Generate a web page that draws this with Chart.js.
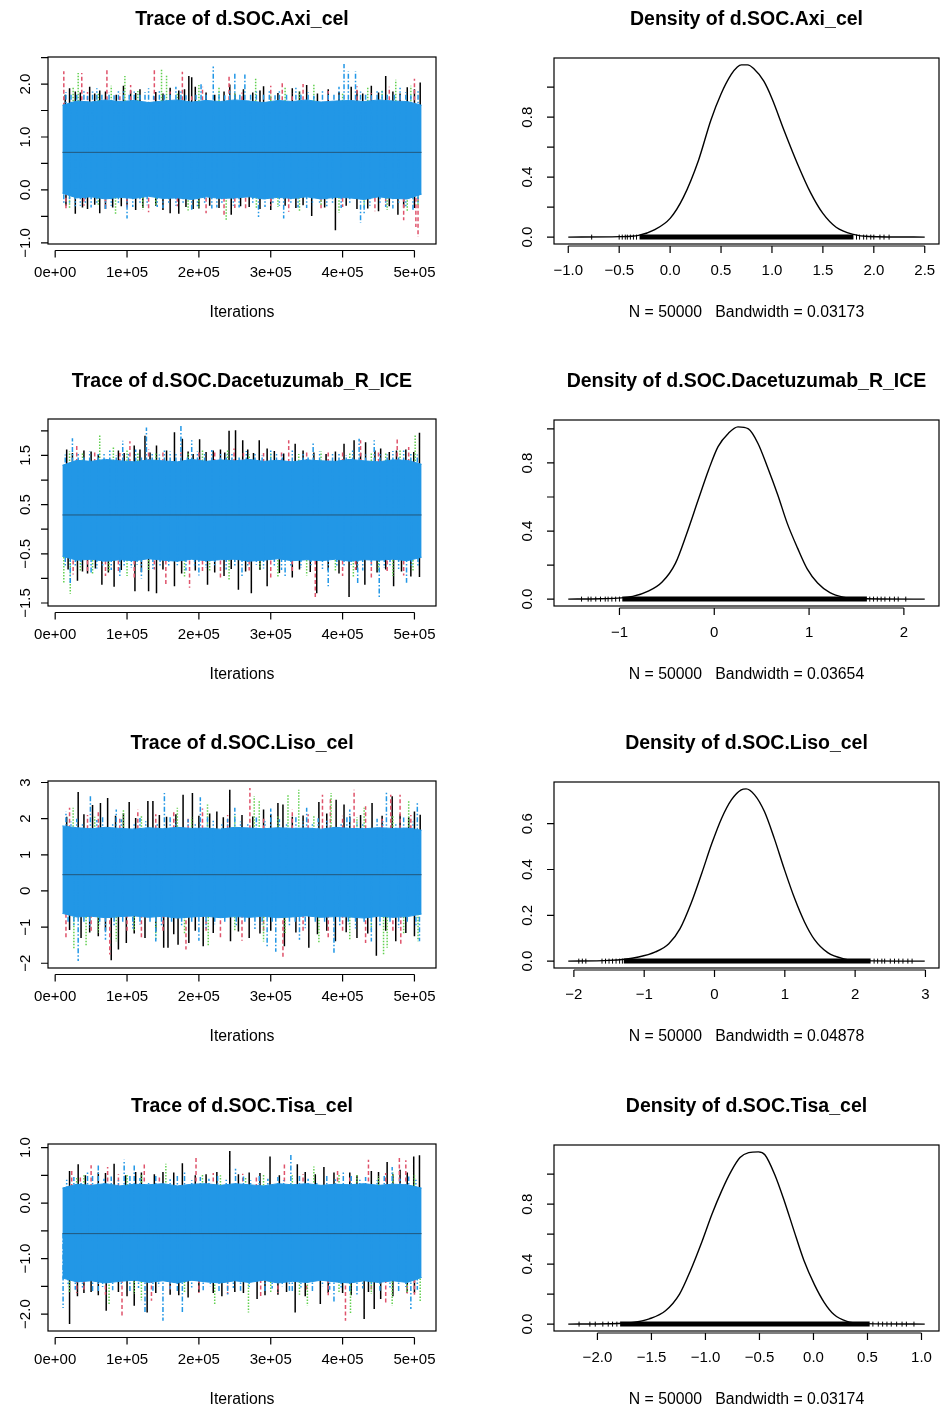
<!DOCTYPE html>
<html>
<head>
<meta charset="utf-8">
<script src="https://cdn.jsdelivr.net/npm/chart.js@4.4.1/dist/chart.umd.min.js"></script>
<style>
  body { margin: 0; background: #fff; }
  #page { position: relative; width: 944px; height: 1409px; overflow: hidden; background: #fff; }
  canvas { position: absolute; }
</style>
</head>
<body>
<div id="page"></div>
<script>
// MCMC diagnostics: trace + density for the four d.SOC contrasts (4 chains)

const paramNames = ['d.SOC.Axi_cel', 'd.SOC.Dacetuzumab_R_ICE', 'd.SOC.Liso_cel', 'd.SOC.Tisa_cel'];
const bandwidths = ['0.03173', '0.03654', '0.04878', '0.03174'];
const sampleN = 50000;
const iterFirst = 10001, iterLast = 510000;

const iterTicks = [0, 100000, 200000, 300000, 400000, 500000];
const iterLabels = ['0e+00', '1e+05', '2e+05', '3e+05', '4e+05', '5e+05'];

// envelope of the dense part of the chains, every 20k iterations (in thousands)
const bandIter = [10, 30, 50, 70, 90, 110, 130, 150, 170, 190, 210, 230, 250, 270, 290, 310, 330, 350, 370, 390, 410, 430, 450, 470, 490, 510];

// ---- Axi_cel
const axiMean = 0.71;
const axiHi = [1.60, 1.68, 1.66, 1.70, 1.67, 1.69, 1.65, 1.68, 1.70, 1.66, 1.69, 1.67, 1.70, 1.68, 1.65, 1.69, 1.67, 1.70, 1.66, 1.68, 1.69, 1.67, 1.70, 1.68, 1.67, 1.60];
const axiLo = [-0.06, -0.15, -0.13, -0.17, -0.14, -0.16, -0.12, -0.16, -0.15, -0.18, -0.13, -0.16, -0.15, -0.13, -0.17, -0.14, -0.16, -0.13, -0.17, -0.14, -0.15, -0.18, -0.13, -0.16, -0.17, -0.08];
// excursions beyond the band: [iteration (k), value]
const axiBlack = [[20, 1.92], [28, 1.86], [48, 1.95], [62, 1.88], [95, 1.97], [118, 1.90], [160, 1.93], [172, 1.88], [186, 2.15], [190, 2.13], [195, 1.95], [243, 1.99], [262, 1.90], [290, 1.96], [330, 1.92], [350, 1.98], [380, 1.90], [412, 1.95], [440, 1.97], [460, 2.15], [490, 1.94], [508, 2.03],
  [14, 1.80], [35, 1.84], [55, 1.82], [70, 1.86], [85, 1.80], [105, 1.88], [112, 1.83], [140, 1.85], [150, 1.82], [180, 1.90], [210, 1.84], [222, 1.80], [235, 1.86], [250, 1.82], [275, 1.84], [285, 1.88], [310, 1.83], [340, 1.86], [365, 1.82], [395, 1.85], [420, 1.88], [428, 1.82], [450, 1.84], [470, 1.86], [480, 1.82], [500, 1.90],
  [28, -0.45], [45, -0.36], [62, -0.44], [80, -0.33], [112, -0.38], [160, -0.44], [172, -0.45], [200, -0.35], [245, -0.47], [270, -0.32], [300, -0.38], [357, -0.49], [390, -0.76], [420, -0.36], [450, -0.40], [477, -0.47], [500, -0.34],
  [15, -0.30], [38, -0.33], [55, -0.28], [70, -0.36], [92, -0.31], [100, -0.29], [122, -0.34], [140, -0.30], [150, -0.38], [182, -0.32], [192, -0.36], [215, -0.30], [228, -0.34], [258, -0.31], [285, -0.36], [320, -0.30], [335, -0.34], [345, -0.29], [375, -0.33], [405, -0.30], [435, -0.35], [465, -0.31], [485, -0.33]];
const axiRed = [[12, 2.24], [37, 2.21], [72, 2.30], [105, 1.98], [138, 2.31], [177, 2.23], [205, 1.95], [242, 2.18], [300, 1.97], [316, 2.05], [345, 2.00], [420, 1.96], [465, 1.95], [500, 2.10],
  [45, 1.85], [90, 1.82], [160, 1.86], [190, 1.80], [260, 1.84], [330, 1.82], [380, 1.87], [440, 1.83], [480, 1.80],
  [15, -0.38], [70, -0.35], [130, -0.42], [210, -0.44], [235, -0.48], [265, -0.37], [325, -0.41], [370, -0.36], [445, -0.40], [485, -0.57], [502, -0.70], [505, -0.89],
  [40, -0.30], [100, -0.33], [170, -0.31], [250, -0.34], [300, -0.30], [400, -0.32], [460, -0.30]];
const axiGreen = [[25, 1.95], [32, 2.21], [78, 1.97], [97, 2.15], [148, 2.27], [155, 2.18], [200, 1.98], [228, 1.95], [279, 2.12], [320, 1.96], [360, 1.99], [435, 1.94], [474, 2.08], [495, 1.97],
  [60, 1.84], [115, 1.87], [170, 1.82], [250, 1.85], [300, 1.80], [340, 1.86], [400, 1.83], [455, 1.88],
  [20, -0.35], [84, -0.47], [122, -0.37], [185, -0.39], [238, -0.57], [280, -0.36], [340, -0.40], [395, -0.43], [462, -0.38], [490, -0.42],
  [60, -0.31], [140, -0.30], [200, -0.33], [310, -0.32], [370, -0.30], [430, -0.34], [505, -0.30]];
const axiBlue = [[15, 1.85], [40, 1.88], [58, 1.92], [88, 1.90], [110, 1.86], [130, 1.92], [168, 1.95], [203, 2.00], [220, 2.33], [250, 2.21], [264, 2.18], [298, 1.90], [335, 1.93], [372, 1.88], [395, 1.95], [402, 2.38], [408, 2.24], [418, 2.24], [448, 1.90], [480, 1.93], [505, 1.87],
  [22, 1.80], [30, 1.83], [45, 1.78], [52, 1.86], [65, 1.81], [75, 1.84], [82, 1.79], [95, 1.87], [103, 1.82], [118, 1.80], [125, 1.85], [137, 1.78], [145, 1.90], [152, 1.83], [160, 1.80], [175, 1.86], [182, 1.79], [196, 1.84], [210, 1.81], [228, 1.85], [236, 1.79], [243, 1.88], [257, 1.82], [272, 1.80], [280, 1.86], [290, 1.83], [306, 1.79], [312, 1.87], [322, 1.82], [342, 1.80], [352, 1.85], [360, 1.78], [380, 1.84], [388, 1.80], [425, 1.86], [432, 1.81], [440, 1.79], [455, 1.88], [462, 1.82], [472, 1.80], [488, 1.85], [495, 1.79],
  [35, -0.30], [70, -0.36], [100, -0.54], [142, -0.32], [190, -0.38], [225, -0.33], [283, -0.51], [318, -0.54], [350, -0.34], [425, -0.62], [430, -0.47], [470, -0.35], [498, -0.38],
  [12, -0.25], [20, -0.28], [28, -0.31], [42, -0.27], [50, -0.33], [58, -0.26], [78, -0.30], [88, -0.27], [108, -0.32], [118, -0.26], [128, -0.29], [150, -0.34], [158, -0.27], [168, -0.30], [178, -0.26], [198, -0.31], [208, -0.28], [218, -0.35], [232, -0.27], [248, -0.30], [256, -0.33], [275, -0.26], [292, -0.32], [303, -0.28], [312, -0.30], [328, -0.27], [338, -0.33], [358, -0.29], [368, -0.26], [378, -0.31], [386, -0.28], [398, -0.34], [410, -0.27], [438, -0.30], [452, -0.28], [460, -0.32], [478, -0.27], [488, -0.31], [505, -0.28]];
const axiYTicks = [-1, -0.5, 0, 0.5, 1, 1.5, 2, 2.5];
const axiYLabels = ['\u22121.0', '', '0.0', '', '1.0', '', '2.0', ''];

// ---- Dacetuzumab_R_ICE
const daceMean = 0.29;
const daceHi = [1.30, 1.40, 1.38, 1.42, 1.39, 1.37, 1.41, 1.39, 1.37, 1.42, 1.38, 1.41, 1.39, 1.42, 1.38, 1.40, 1.37, 1.41, 1.39, 1.38, 1.42, 1.39, 1.37, 1.41, 1.40, 1.32];
const daceLo = [-0.55, -0.63, -0.61, -0.65, -0.62, -0.64, -0.60, -0.63, -0.65, -0.61, -0.64, -0.62, -0.61, -0.65, -0.63, -0.60, -0.64, -0.62, -0.64, -0.61, -0.65, -0.62, -0.63, -0.61, -0.64, -0.57];
const daceBlack = [[16, 1.62], [40, 1.60], [110, 1.70], [125, 1.90], [141, 1.70], [166, 1.97], [177, 1.84], [201, 1.83], [210, 1.57], [230, 1.62], [242, 2.00], [251, 2.01], [261, 1.81], [284, 1.81], [295, 1.64], [334, 1.74], [377, 1.53], [402, 1.74], [416, 1.81], [432, 1.77], [453, 1.64], [475, 1.60], [499, 1.57], [507, 1.96],
  [24, 1.55], [50, 1.58], [60, 1.52], [88, 1.60], [96, 1.55], [118, 1.62], [132, 1.56], [155, 1.60], [185, 1.58], [192, 1.53], [220, 1.60], [236, 1.56], [268, 1.62], [276, 1.55], [305, 1.59], [318, 1.54], [345, 1.60], [360, 1.56], [390, 1.58], [425, 1.55], [445, 1.60], [465, 1.57], [488, 1.62],
  [31, -1.05], [45, -0.90], [65, -1.13], [82, -1.17], [111, -1.26], [130, -1.26], [141, -1.30], [166, -1.16], [212, -1.13], [235, -0.95], [255, -1.23], [273, -1.30], [295, -1.16], [330, -0.98], [364, -1.30], [409, -1.38], [431, -1.13], [471, -1.16], [495, -0.96], [507, -0.97],
  [18, -0.82], [38, -0.86], [56, -0.80], [74, -0.88], [92, -0.83], [120, -0.87], [150, -0.82], [176, -0.90], [195, -0.84], [222, -0.88], [245, -0.81], [265, -0.86], [285, -0.83], [312, -0.89], [340, -0.82], [355, -0.87], [380, -0.84], [395, -0.90], [420, -0.83], [448, -0.88], [460, -0.82], [482, -0.86]];
const daceRed = [[30, 1.73], [104, 1.79], [150, 1.60], [200, 1.58], [249, 1.64], [290, 1.55], [325, 1.81], [380, 1.58], [425, 1.81], [476, 1.85], [492, 1.67],
  [55, 1.58], [90, 1.55], [130, 1.62], [175, 1.57], [222, 1.60], [262, 1.55], [315, 1.60], [350, 1.57], [400, 1.61], [450, 1.56],
  [25, -0.92], [70, -0.95], [110, -1.00], [154, -1.13], [187, -1.19], [230, -0.98], [300, -1.00], [362, -1.38], [400, -0.95], [440, -1.00], [485, -0.94],
  [45, -0.85], [88, -0.88], [138, -0.82], [205, -0.86], [270, -0.84], [330, -0.88], [418, -0.83], [462, -0.87]];
const daceGreen = [[20, 1.58], [62, 1.92], [81, 1.66], [115, 1.55], [205, 1.60], [270, 1.52], [339, 1.53], [410, 1.55], [460, 1.56], [501, 1.93],
  [38, 1.56], [100, 1.60], [140, 1.57], [185, 1.55], [240, 1.60], [300, 1.56], [370, 1.58], [440, 1.55], [480, 1.60],
  [12, -1.09], [21, -1.31], [52, -0.92], [100, -0.95], [180, -0.96], [242, -1.02], [310, -0.97], [350, -0.94], [415, -0.98], [470, -0.95],
  [35, -0.84], [75, -0.87], [130, -0.83], [215, -0.86], [285, -0.82], [390, -0.87], [450, -0.84], [498, -0.86]];
const daceBlue = [[24, 1.85], [60, 1.55], [94, 1.80], [127, 2.07], [160, 1.58], [175, 2.10], [190, 1.81], [230, 1.56], [300, 1.60], [359, 1.77], [423, 1.84], [444, 1.81], [485, 1.60],
  [14, 1.52], [32, 1.56], [40, 1.50], [48, 1.58], [68, 1.53], [76, 1.60], [85, 1.51], [102, 1.55], [112, 1.62], [120, 1.50], [135, 1.57], [145, 1.52], [152, 1.60], [168, 1.54], [184, 1.50], [198, 1.58], [208, 1.53], [218, 1.61], [238, 1.52], [246, 1.56], [256, 1.50], [266, 1.59], [278, 1.54], [288, 1.51], [308, 1.57], [316, 1.52], [330, 1.60], [345, 1.54], [352, 1.50], [368, 1.58], [386, 1.53], [395, 1.56], [405, 1.51], [414, 1.60], [432, 1.52], [452, 1.57], [462, 1.52], [470, 1.59], [478, 1.50], [495, 1.55], [504, 1.52],
  [21, -1.13], [50, -0.90], [90, -0.95], [120, -1.00], [200, -0.94], [260, -0.98], [320, -0.95], [380, -1.16], [421, -1.13], [451, -1.42], [489, -1.09],
  [14, -0.74], [28, -0.78], [36, -0.72], [58, -0.80], [66, -0.75], [78, -0.83], [96, -0.74], [106, -0.79], [114, -0.72], [136, -0.81], [146, -0.75], [158, -0.78], [170, -0.73], [182, -0.84], [194, -0.76], [210, -0.79], [222, -0.73], [238, -0.82], [250, -0.75], [268, -0.78], [280, -0.72], [290, -0.80], [305, -0.76], [315, -0.83], [328, -0.74], [342, -0.79], [356, -0.73], [372, -0.81], [392, -0.75], [402, -0.78], [412, -0.72], [428, -0.84], [440, -0.76], [458, -0.79], [466, -0.73], [478, -0.81], [496, -0.75], [505, -0.78]];
const daceYTicks = [-1.5, -1, -0.5, 0, 0.5, 1, 1.5, 2];
const daceYLabels = ['\u22121.5', '', '\u22120.5', '', '0.5', '', '1.5', ''];

// ---- Liso_cel
const lisoMean = 0.45;
const lisoHi = [1.80, 1.75, 1.72, 1.76, 1.73, 1.71, 1.75, 1.72, 1.76, 1.73, 1.74, 1.71, 1.76, 1.74, 1.72, 1.75, 1.73, 1.74, 1.71, 1.76, 1.73, 1.72, 1.75, 1.73, 1.74, 1.68];
const lisoLo = [-0.62, -0.72, -0.70, -0.74, -0.71, -0.69, -0.73, -0.70, -0.75, -0.72, -0.70, -0.74, -0.71, -0.73, -0.70, -0.74, -0.72, -0.69, -0.73, -0.71, -0.72, -0.75, -0.70, -0.73, -0.71, -0.64];
const lisoBlack = [[32, 2.74], [52, 2.38], [63, 2.43], [73, 2.57], [103, 2.46], [129, 2.49], [136, 2.49], [178, 2.66], [191, 2.71], [225, 2.20], [243, 2.80], [290, 2.25], [310, 2.43], [317, 2.39], [367, 2.46], [391, 2.52], [402, 2.39], [441, 2.43], [469, 2.62], [500, 2.20], [508, 2.11],
  [16, 2.05], [40, 2.12], [84, 2.08], [95, 2.15], [112, 2.02], [145, 2.10], [155, 2.05], [168, 2.12], [200, 2.08], [215, 2.14], [234, 2.04], [260, 2.10], [275, 2.06], [300, 2.12], [330, 2.05], [345, 2.09], [378, 2.14], [410, 2.06], [425, 2.10], [455, 2.08], [480, 2.12], [492, 2.04],
  [36, -1.30], [60, -1.25], [78, -1.92], [88, -1.62], [99, -1.44], [125, -1.30], [151, -1.57], [157, -1.57], [171, -1.49], [186, -1.44], [206, -1.53], [244, -1.39], [270, -1.30], [319, -1.53], [353, -1.57], [390, -1.39], [420, -1.30], [447, -1.79], [474, -1.39], [500, -1.25],
  [20, -1.08], [48, -1.15], [70, -1.10], [110, -1.18], [140, -1.12], [165, -1.20], [195, -1.10], [220, -1.16], [255, -1.12], [285, -1.18], [300, -1.10], [335, -1.15], [365, -1.20], [378, -1.10], [405, -1.14], [435, -1.18], [460, -1.10], [488, -1.16]];
const lisoRed = [[20, 2.30], [60, 2.20], [115, 2.25], [165, 2.20], [205, 2.28], [271, 2.85], [330, 2.25], [372, 2.66], [383, 2.55], [416, 2.80], [432, 2.34], [467, 2.66], [480, 2.66],
  [45, 2.10], [90, 2.05], [140, 2.12], [185, 2.06], [240, 2.10], [290, 2.04], [352, 2.12], [400, 2.08], [455, 2.06], [495, 2.10],
  [15, -1.30], [76, -1.76], [120, -1.35], [182, -1.62], [230, -1.30], [260, -1.38], [317, -1.87], [380, -1.35], [432, -1.44], [481, -1.53],
  [50, -1.12], [100, -1.16], [150, -1.10], [210, -1.14], [290, -1.18], [345, -1.10], [400, -1.15], [470, -1.12]];
const lisoGreen = [[25, 2.30], [95, 2.25], [170, 2.30], [212, 2.39], [277, 2.62], [284, 2.48], [324, 2.66], [339, 2.80], [384, 2.71], [430, 2.30], [492, 2.52],
  [55, 2.05], [120, 2.10], [190, 2.04], [250, 2.12], [310, 2.06], [360, 2.10], [420, 2.04], [470, 2.10],
  [26, -1.62], [43, -1.53], [85, -1.39], [140, -1.35], [213, -1.53], [290, -1.40], [367, -1.44], [410, -1.35], [457, -1.77], [462, -1.57], [505, -1.39],
  [60, -1.15], [110, -1.10], [180, -1.18], [250, -1.12], [320, -1.16], [440, -1.12], [485, -1.18]];
const lisoBlue = [[15, 2.20], [49, 2.62], [85, 2.25], [152, 2.71], [202, 2.59], [250, 2.30], [300, 2.28], [350, 2.30], [410, 2.25], [461, 2.74], [504, 2.48],
  [22, 1.92], [30, 2.00], [38, 1.88], [58, 1.96], [66, 2.05], [80, 1.90], [92, 1.98], [110, 1.87], [118, 2.02], [126, 1.93], [142, 1.89], [160, 2.04], [168, 1.92], [185, 1.98], [195, 1.88], [212, 2.06], [220, 1.94], [232, 1.90], [240, 2.00], [258, 1.92], [268, 1.87], [280, 2.03], [292, 1.93], [312, 1.98], [322, 1.89], [335, 2.05], [345, 1.92], [358, 1.88], [366, 2.01], [378, 1.94], [398, 1.90], [406, 2.04], [420, 1.92], [428, 1.88], [448, 2.00], [456, 1.93], [474, 1.89], [485, 2.03], [498, 1.92],
  [32, -1.94], [70, -1.35], [140, -1.40], [200, -1.38], [295, -1.57], [307, -1.68], [340, -1.35], [388, -1.71], [440, -1.40], [507, -1.39],
  [18, -0.90], [26, -0.98], [40, -0.86], [48, -1.02], [62, -0.92], [82, -0.97], [94, -0.87], [108, -1.04], [118, -0.93], [132, -0.89], [148, -1.00], [162, -0.91], [176, -0.96], [190, -0.87], [210, -1.03], [222, -0.92], [236, -0.88], [252, -0.99], [264, -0.90], [278, -1.05], [288, -0.93], [302, -0.88], [326, -0.98], [334, -0.90], [348, -1.03], [362, -0.91], [375, -0.87], [396, -0.99], [408, -0.92], [418, -1.04], [430, -0.89], [452, -0.97], [466, -0.91], [478, -1.02], [490, -0.88], [502, -0.95]];
const lisoYTicks = [-2, -1, 0, 1, 2, 3];
const lisoYLabels = ['\u22122', '\u22121', '0', '1', '2', '3'];

// ---- Tisa_cel
const tisaMean = -0.55;
const tisaHi = [0.27, 0.34, 0.32, 0.35, 0.31, 0.34, 0.33, 0.35, 0.31, 0.34, 0.35, 0.32, 0.35, 0.33, 0.31, 0.35, 0.33, 0.35, 0.32, 0.34, 0.33, 0.35, 0.32, 0.34, 0.33, 0.27];
const tisaLo = [-1.35, -1.42, -1.40, -1.44, -1.41, -1.39, -1.43, -1.40, -1.44, -1.39, -1.42, -1.44, -1.40, -1.43, -1.39, -1.44, -1.41, -1.43, -1.39, -1.42, -1.44, -1.40, -1.43, -1.40, -1.43, -1.34];
const tisaBlack = [[20, 0.58], [32, 0.70], [60, 0.55], [82, 0.71], [120, 0.55], [150, 0.56], [177, 0.72], [210, 0.52], [243, 0.94], [270, 0.55], [299, 0.84], [337, 0.70], [374, 0.65], [410, 0.55], [440, 0.58], [462, 0.74], [480, 0.60], [499, 0.84], [507, 0.86],
  [42, 0.50], [70, 0.54], [98, 0.50], [112, 0.56], [138, 0.52], [165, 0.55], [195, 0.50], [225, 0.56], [255, 0.52], [285, 0.54], [312, 0.50], [348, 0.56], [362, 0.52], [388, 0.55], [420, 0.50], [450, 0.56], [470, 0.52], [490, 0.55],
  [20, -2.18], [31, -1.68], [50, -1.60], [71, -1.94], [110, -1.85], [128, -1.97], [160, -1.65], [185, -1.70], [220, -1.62], [250, -1.60], [281, -1.73], [310, -1.65], [334, -1.97], [369, -1.82], [400, -1.62], [430, -2.09], [444, -1.91], [453, -1.73], [490, -1.62],
  [40, -1.62], [60, -1.66], [88, -1.60], [100, -1.68], [140, -1.62], [172, -1.66], [200, -1.60], [232, -1.68], [262, -1.62], [292, -1.66], [322, -1.60], [348, -1.68], [380, -1.62], [412, -1.66], [436, -1.60], [470, -1.68], [500, -1.62]];
const tisaRed = [[23, 0.59], [50, 0.68], [73, 0.65], [124, 0.74], [196, 0.83], [261, 0.53], [319, 0.74], [393, 0.60], [436, 0.78], [479, 0.84], [488, 0.77],
  [35, 0.50], [88, 0.52], [145, 0.50], [220, 0.54], [280, 0.50], [345, 0.52], [410, 0.50], [460, 0.54],
  [40, -1.60], [93, -2.03], [134, -1.76], [200, -1.62], [286, -1.70], [350, -1.60], [404, -2.12], [460, -1.79], [500, -1.65],
  [30, -1.62], [70, -1.65], [160, -1.60], [240, -1.64], [310, -1.62], [380, -1.66], [440, -1.60], [490, -1.63]];
const tisaGreen = [[40, 0.50], [100, 0.52], [154, 0.71], [230, 0.50], [290, 0.52], [360, 0.66], [420, 0.52], [470, 0.55],
  [30, 0.48], [120, 0.50], [205, 0.52], [265, 0.48], [330, 0.50], [395, 0.52], [450, 0.49], [500, 0.50],
  [75, -1.82], [120, -1.75], [222, -1.82], [269, -1.97], [351, -1.85], [411, -2.00], [469, -1.85], [508, -1.79],
  [20, -1.60], [110, -1.64], [180, -1.62], [300, -1.60], [340, -1.65], [395, -1.62], [440, -1.64], [490, -1.60]];
const tisaBlue = [[45, 0.55], [60, 0.71], [96, 0.78], [110, 0.68], [180, 0.55], [251, 0.62], [328, 0.90], [401, 0.58], [469, 0.65],
  [16, 0.42], [26, 0.47], [36, 0.40], [52, 0.50], [68, 0.44], [78, 0.48], [88, 0.41], [104, 0.52], [118, 0.45], [130, 0.40], [140, 0.49], [160, 0.43], [170, 0.50], [190, 0.41], [202, 0.47], [214, 0.44], [226, 0.51], [238, 0.42], [262, 0.48], [272, 0.41], [284, 0.50], [296, 0.44], [310, 0.47], [318, 0.41], [340, 0.52], [352, 0.44], [364, 0.40], [378, 0.49], [390, 0.43], [412, 0.50], [424, 0.42], [432, 0.47], [448, 0.41], [458, 0.51], [480, 0.44], [492, 0.48], [502, 0.42],
  [11, -1.89], [60, -1.62], [125, -1.97], [150, -2.12], [177, -1.97], [240, -1.65], [330, -1.60], [388, -1.79], [420, -1.65], [495, -1.91],
  [18, -1.50], [28, -1.56], [38, -1.52], [52, -1.60], [66, -1.51], [80, -1.57], [92, -1.50], [104, -1.62], [116, -1.53], [136, -1.58], [144, -1.50], [160, -1.55], [170, -1.61], [190, -1.52], [206, -1.57], [216, -1.50], [228, -1.60], [248, -1.53], [258, -1.58], [270, -1.51], [292, -1.62], [302, -1.54], [316, -1.50], [326, -1.58], [342, -1.52], [358, -1.60], [372, -1.50], [382, -1.56], [398, -1.52], [410, -1.61], [428, -1.54], [440, -1.50], [452, -1.58], [466, -1.52], [478, -1.60], [488, -1.51], [504, -1.56]];
const tisaYTicks = [-2, -1.5, -1, -0.5, 0, 0.5, 1];
const tisaYLabels = ['\u22122.0', '', '\u22121.0', '', '0.0', '', '1.0'];

// ---- kernel density estimates
const axiDensX = [-1.0, -0.5, -0.31, -0.15, 0.0, 0.13, 0.28, 0.40, 0.50, 0.60, 0.66, 0.70, 0.76, 0.82, 0.92, 1.0, 1.12, 1.25, 1.38, 1.50, 1.63, 1.80, 1.95, 2.5];
const axiDensY = [0, 0.003, 0.012, 0.05, 0.125, 0.265, 0.515, 0.78, 0.955, 1.085, 1.135, 1.149, 1.149, 1.125, 1.04, 0.925, 0.71, 0.49, 0.295, 0.158, 0.066, 0.018, 0.004, 0];
const daceDensX = [-1.54, -1.2, -0.86, -0.69, -0.55, -0.41, -0.29, -0.17, -0.06, 0.04, 0.15, 0.25, 0.36, 0.46, 0.56, 0.67, 0.77, 0.88, 0.98, 1.09, 1.22, 1.36, 1.6, 2.22];
const daceDensY = [0, 0.002, 0.016, 0.048, 0.1, 0.21, 0.386, 0.582, 0.759, 0.896, 0.975, 1.012, 1.0, 0.916, 0.778, 0.612, 0.445, 0.298, 0.178, 0.095, 0.038, 0.012, 0.002, 0];
const lisoDensX = [-2.08, -1.5, -1.08, -0.84, -0.65, -0.49, -0.33, -0.18, -0.04, 0.10, 0.24, 0.38, 0.45, 0.57, 0.71, 0.85, 0.99, 1.14, 1.28, 1.42, 1.61, 1.84, 2.1, 2.99];
const lisoDensY = [0, 0.003, 0.018, 0.04, 0.076, 0.142, 0.255, 0.385, 0.512, 0.623, 0.704, 0.748, 0.752, 0.726, 0.653, 0.536, 0.404, 0.273, 0.171, 0.095, 0.037, 0.01, 0.002, 0];
const tisaDensX = [-2.27, -1.9, -1.67, -1.52, -1.37, -1.24, -1.14, -1.03, -0.94, -0.85, -0.76, -0.68, -0.60, -0.51, -0.45, -0.36, -0.27, -0.18, -0.09, 0.01, 0.10, 0.19, 0.31, 0.43, 1.03];
const tisaDensY = [0, 0.002, 0.011, 0.035, 0.089, 0.2, 0.355, 0.555, 0.733, 0.889, 1.022, 1.111, 1.144, 1.149, 1.13, 1.0, 0.822, 0.622, 0.428, 0.262, 0.144, 0.064, 0.018, 0.005, 0];

// rug: solid stretch [from, to] plus the isolated draws in the tails
const axiRugSolid = [-0.30, 1.80];
const axiRugTail = [-0.77, -0.50, -0.47, -0.44, -0.42, -0.39, -0.36, -0.33, 1.83, 1.86, 1.90, 1.93, 1.97, 2.00, 2.06, 2.10, 2.15];
const daceRugSolid = [-0.97, 1.61];
const daceRugTail = [-1.40, -1.33, -1.30, -1.25, -1.20, -1.15, -1.12, -1.08, -1.04, -1.00, 1.64, 1.68, 1.72, 1.76, 1.80, 1.85, 1.90, 1.94, 2.02];
const lisoRugSolid = [-1.29, 2.22];
const lisoRugTail = [-1.93, -1.88, -1.83, -1.60, -1.55, -1.50, -1.45, -1.40, -1.35, -1.31, 2.27, 2.32, 2.38, 2.42, 2.50, 2.56, 2.62, 2.68, 2.75, 2.81];
const tisaRugSolid = [-1.79, 0.52];
const tisaRugTail = [-2.17, -2.07, -2.02, -1.95, -1.90, -1.86, -1.82, 0.55, 0.60, 0.64, 0.68, 0.72, 0.77, 0.82, 0.86, 0.93];

const densYTicks = [0, 0.2, 0.4, 0.6, 0.8, 1.0];
const densYLabels = ['0.0', '', '0.4', '', '0.8', ''];
const lisoDensYTicks = [0, 0.2, 0.4, 0.6];
const lisoDensYLabels = ['0.0', '0.2', '0.4', '0.6'];
const axiDensXTicks = [-1, -0.5, 0, 0.5, 1, 1.5, 2, 2.5];
const axiDensXLabels = ['\u22121.0', '\u22120.5', '0.0', '0.5', '1.0', '1.5', '2.0', '2.5'];
const daceDensXTicks = [-1, 0, 1, 2];
const daceDensXLabels = ['\u22121', '0', '1', '2'];
const lisoDensXTicks = [-2, -1, 0, 1, 2, 3];
const lisoDensXLabels = ['\u22122', '\u22121', '0', '1', '2', '3'];
const tisaDensXTicks = [-2, -1.5, -1, -0.5, 0, 0.5, 1];
const tisaDensXLabels = ['\u22122.0', '\u22121.5', '\u22121.0', '\u22120.5', '0.0', '0.5', '1.0'];

const FONT = '"Liberation Sans", Arial, Helvetica, sans-serif';
const chainCols = ['#000000', '#DF536B', '#61D04F', '#2297E6'];
const chainDash = [[], [4, 2.5], [1.5, 1.5], [5, 2, 1.5, 2]];
const page = document.getElementById('page');

function makeCanvas(col, row) {
  const c = document.createElement('canvas');
  c.width = 472; c.height = 362;
  c.style.left = (col * 472) + 'px';
  c.style.top = Math.round(row * 362.2) + 'px';
  page.appendChild(c);
  return c;
}

// R-style box, axes, titles
function rFrame(p) {
  return {
    id: 'rFrame',
    afterDraw(chart) {
      const { ctx, chartArea: a, scales: { x, y } } = chart;
      ctx.save();
      ctx.strokeStyle = '#000';
      ctx.fillStyle = '#000';
      ctx.lineWidth = 1.2;
      ctx.strokeRect(a.left, a.top, a.right - a.left, a.bottom - a.top);

      const ay = a.bottom + p.xGap;
      ctx.beginPath();
      ctx.moveTo(x.getPixelForValue(p.xTicks[0]), ay);
      ctx.lineTo(x.getPixelForValue(p.xTicks[p.xTicks.length - 1]), ay);
      p.xTicks.forEach(v => {
        const px = x.getPixelForValue(v);
        ctx.moveTo(px, ay);
        ctx.lineTo(px, ay + p.tick);
      });
      p.yTicks.forEach(v => {
        const py = y.getPixelForValue(v);
        ctx.moveTo(a.left, py);
        ctx.lineTo(a.left - p.tick, py);
      });
      ctx.stroke();

      ctx.font = '15px ' + FONT;
      ctx.textAlign = 'center';
      ctx.textBaseline = 'middle';
      p.xLabels.forEach((t, i) => ctx.fillText(t, x.getPixelForValue(p.xTicks[i]), p.xLabelY));

      ctx.textBaseline = 'alphabetic';
      p.yLabels.forEach((t, i) => {
        if (!t) return;
        ctx.save();
        ctx.translate(a.left - p.yLabelOff, y.getPixelForValue(p.yTicks[i]));
        ctx.rotate(-Math.PI / 2);
        ctx.fillText(t, 0, 0);
        ctx.restore();
      });

      const cx = (a.left + a.right) / 2;
      ctx.textBaseline = 'middle';
      ctx.font = 'bold 19.5px ' + FONT;
      ctx.fillText(p.title, cx, 20);
      ctx.font = '15.8px ' + FONT;
      ctx.fillText(p.sub, cx, 312.5);
      ctx.restore();
    }
  };
}

function spikeSegments(list, base) {
  const pts = [];
  list.forEach(([k, v]) => {
    pts.push({ x: k * 1000, y: base }, { x: k * 1000, y: v }, { x: k * 1000, y: null });
  });
  return pts;
}

function tracePanel(row, name, mean, hi, lo, chains, yTicks, yLabels) {
  const tips = chains.flat().map(s => s[1]).concat(hi, lo);
  const ymin = Math.min(...tips), ymax = Math.max(...tips);
  const yPad = 0.04 * (ymax - ymin);
  const xPad = 0.04 * (iterLast - iterFirst);

  const ds = [];
  const spikes = i => ({
    data: spikeSegments(chains[i], mean),
    borderColor: chainCols[i], borderWidth: 1.5, borderDash: chainDash[i],
    pointRadius: 0, spanGaps: false, fill: false
  });
  ds.push(spikes(0), spikes(1), spikes(2));
  ds.push({
    data: bandIter.map((k, i) => ({ x: k * 1000, y: lo[i] })),
    borderColor: chainCols[3], borderWidth: 1, pointRadius: 0, fill: false
  });
  ds.push({
    data: bandIter.map((k, i) => ({ x: k * 1000, y: hi[i] })),
    borderColor: chainCols[3], borderWidth: 1, pointRadius: 0,
    fill: '-1', backgroundColor: chainCols[3]
  });
  ds.push(spikes(3));
  ds.push({
    data: [{ x: iterFirst, y: mean }, { x: iterLast, y: mean }],
    borderColor: 'rgba(35,75,105,0.85)', borderWidth: 1, pointRadius: 0, fill: false
  });
  ds.forEach((d, i) => { d.order = ds.length - i; });

  new Chart(makeCanvas(0, row), {
    type: 'line',
    data: { datasets: ds },
    options: {
      responsive: false, animation: false, devicePixelRatio: 1,
      layout: { padding: { left: 48, right: 36, top: 57, bottom: 118 } },
      scales: {
        x: { type: 'linear', display: false, min: iterFirst - xPad, max: iterLast + xPad },
        y: { type: 'linear', display: false, min: ymin - yPad, max: ymax + yPad }
      },
      plugins: { legend: { display: false }, tooltip: { enabled: false } }
    },
    plugins: [rFrame({
      title: 'Trace of ' + name, sub: 'Iterations',
      xTicks: iterTicks, xLabels: iterLabels, yTicks, yLabels,
      xGap: 6.5, tick: 7, xLabelY: 273, yLabelOff: 18.5
    })]
  });
}

function densityPanel(row, name, bw, dx, dy, rugSolid, rugTail, xTicks, xLabels, yTicks, yLabels) {
  const xmin = dx[0], xmax = dx[dx.length - 1];
  const xPad = 0.04 * (xmax - xmin);
  const ymax = Math.max(...dy);

  new Chart(makeCanvas(1, row), {
    type: 'line',
    data: {
      datasets: [
        {
          data: dx.map((v, i) => ({ x: v, y: dy[i] })),
          borderColor: '#000', borderWidth: 1.4, pointRadius: 0,
          cubicInterpolationMode: 'monotone', fill: false
        },
        {
          data: rugSolid.map(v => ({ x: v, y: 0 })),
          borderColor: '#000', borderWidth: 5, pointRadius: 0, fill: false
        },
        {
          type: 'scatter',
          data: rugTail.map(v => ({ x: v, y: 0 })),
          pointStyle: 'line', pointRotation: 90, pointRadius: 2.5,
          pointBorderColor: '#000', pointBorderWidth: 1, showLine: false
        }
      ]
    },
    options: {
      responsive: false, animation: false, devicePixelRatio: 1,
      layout: { padding: { left: 82, right: 1, top: 58, bottom: 118 } },
      scales: {
        x: { type: 'linear', display: false, min: xmin - xPad, max: xmax + xPad },
        y: { type: 'linear', display: false, min: -0.04 * ymax, max: 1.04 * ymax }
      },
      plugins: { legend: { display: false }, tooltip: { enabled: false } }
    },
    plugins: [rFrame({
      title: 'Density of ' + name,
      sub: 'N = ' + sampleN + '   Bandwidth = ' + bw,
      xTicks, xLabels, yTicks, yLabels,
      xGap: 2, tick: 7, xLabelY: 271, yLabelOff: 22
    })]
  });
}

tracePanel(0, paramNames[0], axiMean, axiHi, axiLo, [axiBlack, axiRed, axiGreen, axiBlue], axiYTicks, axiYLabels);
tracePanel(1, paramNames[1], daceMean, daceHi, daceLo, [daceBlack, daceRed, daceGreen, daceBlue], daceYTicks, daceYLabels);
tracePanel(2, paramNames[2], lisoMean, lisoHi, lisoLo, [lisoBlack, lisoRed, lisoGreen, lisoBlue], lisoYTicks, lisoYLabels);
tracePanel(3, paramNames[3], tisaMean, tisaHi, tisaLo, [tisaBlack, tisaRed, tisaGreen, tisaBlue], tisaYTicks, tisaYLabels);

densityPanel(0, paramNames[0], bandwidths[0], axiDensX, axiDensY, axiRugSolid, axiRugTail, axiDensXTicks, axiDensXLabels, densYTicks, densYLabels);
densityPanel(1, paramNames[1], bandwidths[1], daceDensX, daceDensY, daceRugSolid, daceRugTail, daceDensXTicks, daceDensXLabels, densYTicks, densYLabels);
densityPanel(2, paramNames[2], bandwidths[2], lisoDensX, lisoDensY, lisoRugSolid, lisoRugTail, lisoDensXTicks, lisoDensXLabels, lisoDensYTicks, lisoDensYLabels);
densityPanel(3, paramNames[3], bandwidths[3], tisaDensX, tisaDensY, tisaRugSolid, tisaRugTail, tisaDensXTicks, tisaDensXLabels, densYTicks, densYLabels);
</script>
</body>
</html>
